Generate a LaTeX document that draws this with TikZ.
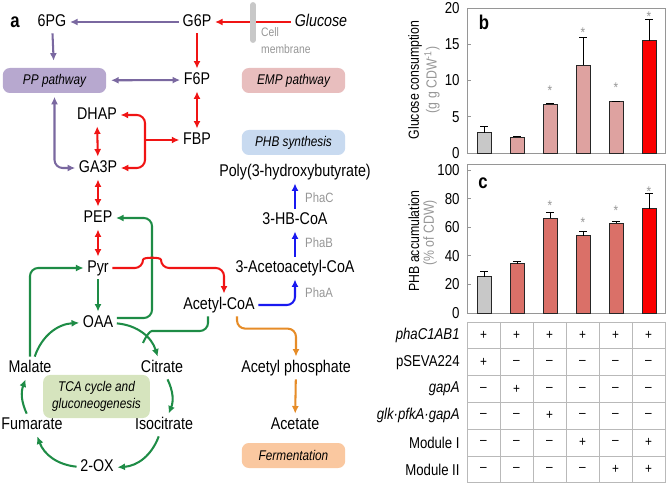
\documentclass[tikz,border=0pt]{standalone}
\usepackage{fontspec}
\setmainfont{Liberation Sans}[FakeStretch=0.84]
\usepackage{xcolor}
\usetikzlibrary{arrows.meta,positioning,calc}
\definecolor{cpur}{RGB}{122,104,160}
\definecolor{cred}{RGB}{240,20,20}
\definecolor{cgrn}{RGB}{30,140,70}
\definecolor{cblu}{RGB}{25,25,240}
\definecolor{corg}{RGB}{230,140,40}
\definecolor{fpur}{RGB}{183,168,207}
\definecolor{femp}{RGB}{232,190,190}
\definecolor{fphb}{RGB}{200,218,240}
\definecolor{ftca}{RGB}{214,228,190}
\definecolor{ffer}{RGB}{250,200,160}
\definecolor{txtgray}{RGB}{150,150,150}
\definecolor{memgray}{RGB}{200,200,200}
\definecolor{gridgray}{RGB}{185,185,185}
\definecolor{framegray}{RGB}{150,150,150}
\definecolor{bargray}{RGB}{200,200,200}
\definecolor{barpinkb}{RGB}{222,162,160}
\definecolor{barpinkc}{RGB}{218,112,104}
\definecolor{barred}{RGB}{250,0,0}
\newcommand\tabsign[1]{\if#1p+\else\textendash\fi}

\begin{document}
\begin{tikzpicture}[x=0.03cm,y=-0.03cm,>={Latex[length=6.5pt,width=6pt]},
  met/.style={font=\fontsize{14.5}{16}\selectfont,inner sep=3pt,text height=10.4pt,text depth=2.6pt},
  enz/.style={font=\fontsize{11.5}{13}\selectfont,text=txtgray,inner sep=0pt,anchor=west},
  pbox/.style={rounded corners=6pt,minimum width=3.1cm,minimum height=0.75cm,inner sep=2pt,
    font=\fontsize{12}{14}\selectfont\itshape,align=center},
  flux/.style={line width=1.75pt,rounded corners=7pt},
  purflux/.style={flux,draw=cpur},
  redflux/.style={flux,draw=cred},
  grnflux/.style={flux,draw=cgrn},
  bluflux/.style={flux,draw=cblu},
  orgflux/.style={flux,draw=corg},
  panel/.style={font=\fontsize{17}{19}\selectfont\bfseries,inner sep=0pt},
  ticklab/.style={font=\fontsize{13.5}{15}\selectfont,anchor=east,inner sep=1pt},
  axlab/.style={font=\fontsize{12.5}{14}\selectfont,rotate=90,inner sep=0pt},
  sigmark/.style={font=\fontsize{12}{14}\selectfont,text=txtgray,inner sep=0pt},
  barbox/.style={draw=black!85,line width=0.6pt},
  rowlab/.style={font=\fontsize{13.4}{15}\selectfont,anchor=east,inner sep=1pt},
  cell/.style={font=\fontsize{12}{14}\selectfont,inner sep=0pt}]
  \useasboundingbox (0,0) rectangle (666,485);

  % panel a: metabolites
  \node[panel] (la) at (15,22) {a};
  \node[met] (pg6) at (52,22) {6PG};
  \node[met] (g6p) at (197,22) {G6P};
  \node[met,font=\fontsize{14.5}{16}\selectfont\itshape] (glc) at (321,22) {Glucose};
  \node[met] (f6p) at (197,80) {F6P};
  \node[met] (fbp) at (197,140) {FBP};
  \node[met] (dhap) at (97,115) {DHAP};
  \node[met] (ga3p) at (98,168) {GA3P};
  \node[met] (pep) at (98,218) {PEP};
  \node[met] (pyr) at (98,268) {Pyr};
  \node[met] (oaa) at (98,323) {OAA};
  \node[met] (acoa) at (219,305) {Acetyl-CoA};
  \node[met] (aaco) at (295,268) {3-Acetoacetyl-CoA};
  \node[met] (hbcoa) at (295,220) {3-HB-CoA};
  \node[met] (phb) at (295,172) {Poly(3-hydroxybutyrate)};
  \node[met] (acph) at (296,368) {Acetyl phosphate};
  \node[met] (ace) at (295,425) {Acetate};
  \node[met] (mal) at (30,368) {Malate};
  \node[met] (cit) at (162,368) {Citrate};
  \node[met] (iso) at (164,425) {Isocitrate};
  \node[met] (oxo) at (97,467) {2-OX};
  \node[met] (fum) at (32,425) {Fumarate};
  \node[enz] (phaA) at (305,293) {PhaA};
  \node[enz] (phaB) at (305,243) {PhaB};
  \node[enz] (phaC) at (305,198) {PhaC};

  % pathway boxes
  \node[pbox,fill=fpur] (pp) at (54.5,80.5) {PP pathway};
  \node[pbox,fill=femp] (emp) at (293.5,80.5) {EMP pathway};
  \node[pbox,fill=fphb] (phbs) at (293.5,142.5) {PHB synthesis};
  \node[pbox,fill=ftca,minimum width=3.2cm,minimum height=1.29cm,inner sep=1pt] (tca) at (96.5,396.5)
    {TCA cycle and\\gluconeogenesis};
  \node[pbox,fill=ffer] (ferm) at (293.5,455.5) {Fermentation};

  % glycolysis and PP pathway
  \draw[redflux,->] (glc) -- (g6p);
  \draw[memgray,line width=5pt,line cap=round] (253,5) -- (253,40);
  \node[font=\fontsize{10.5}{14.5}\selectfont,text=txtgray,align=left,anchor=north west,inner sep=0pt]
    (memb) at (261,27) {Cell\\membrane};
  \draw[purflux,->] (g6p) -- (pg6);
  \draw[purflux,->,shorten >=6pt] (pg6) -- (pp);
  \draw[redflux,->] (g6p) -- (f6p);
  \draw[purflux,<->,shorten <=4pt] (pp) -- (f6p);
  \draw[redflux,<->] (f6p) -- (fbp);
  \draw[redflux,<->] (dhap) -- (ga3p);
  \coordinate (split) at (145,140);
  \draw[redflux,<->] (dhap.east) -| (split) |- (ga3p.east);
  \draw[redflux,->] (split) -- (fbp);
  \draw[purflux,<->,shorten >=3pt] (ga3p.west) -| (pp.south);
  \draw[redflux,<->] (ga3p) -- (pep);
  \draw[redflux,<->] (pep) -- (pyr);
  \draw[grnflux,->] (pyr) -- (oaa);
  \draw[grnflux,->] ($(oaa.east)+(0,-5)$) -| (152,250) |- (pep.east);
  \draw[redflux,->] (pyr.east) -- (143,268) .. controls (143,257) and (161,257) .. (161,268)
    -| ($(acoa.north)+(5,0)$);
  \draw[grnflux,->] (mal.north) |- (pyr.west);

  % PHB synthesis and fermentation
  \draw[bluflux,->] (acoa.east) -| (aaco.south);
  \draw[bluflux,->] (aaco) -- (hbcoa);
  \draw[bluflux,->] (hbcoa) -- (phb);
  \draw[orgflux,->] ($(acoa.south)+(18,0)$) |- ($(acph.north)+(0,-28)$) -- (acph.north);
  \draw[orgflux,->] (acph) -- (ace);

  % TCA cycle
  \draw[grnflux,->] (oaa) to[bend left=34] (cit);
  \draw[grnflux,->] (cit) to[bend left=24] (iso);
  \draw[grnflux,->] (iso) to[bend left=33] (oxo);
  \draw[grnflux,->] (oxo) to[bend left=32] (fum);
  \draw[grnflux,->] (fum) to[bend left=23] (mal);
  \draw[grnflux,->] (mal) to[bend left=34] (oaa);
  \draw[grnflux] ($(acoa.south)+(-11,0)$) |- (160,331) .. controls (150,331) and (146,336) .. (143,343);

  % panel b
  \draw[framegray,line width=0.7pt] (467,8) rectangle (665,153);
  \node[panel] (lb) at (484,22) {b};
  \foreach \v in {0,5,...,20} {
    \node[ticklab] at (461,{153-7.25*\v}) {\v};
    \draw[framegray,line width=0.7pt] (467,{153-7.25*\v}) -- (471,{153-7.25*\v});
  }
  \node[axlab] (ylb) at (415,80) {Glucose consumption};
  \node[axlab,text=txtgray] (yub) at (432,80) {(g g CDW\textsuperscript{-1})};
  \foreach \i/\v/\e/\c in {0/2.8/3.6/bargray,1/2.2/2.3/barpinkb,2/6.7/6.9/barpinkb,
      3/12.1/15.9/barpinkb,4/7.1/7.1/barpinkb,5/15.5/18.4/barred} {
    \draw[barbox,fill=\c] ({477+33*\i},153) rectangle ({491+33*\i},{153-7.25*\v});
    \draw[line width=0.8pt] ({484+33*\i},{153-7.25*\v}) -- ({484+33*\i},{153-7.25*\e})
      ++(-4,0) -- ++(8,0);
  }
  \foreach \i/\s in {2/9.0,3/17.0,4/9.4,5/19.2}
    \node[sigmark] at ({484+33*\i},{156-7.25*\s}) {*};

  % panel c
  \draw[framegray,line width=0.7pt] (467,164) rectangle (665,313);
  \node[panel] (lc) at (483,183) {c};
  \foreach \v in {0,20,...,100} {
    \node[ticklab] at (461,{313-1.43*\v}) {\v};
    \draw[framegray,line width=0.7pt] (467,{313-1.43*\v}) -- (471,{313-1.43*\v});
  }
  \node[axlab] (ylc) at (414,241) {PHB accumulation};
  \node[axlab,text=txtgray] (yuc) at (430,233) {(\% of CDW)};
  \foreach \i/\v/\e/\c in {0/25.5/29/bargray,1/34.5/36/barpinkc,2/66.5/70/barpinkc,
      3/54/57/barpinkc,4/63/64/barpinkc,5/73/83.5/barred} {
    \draw[barbox,fill=\c] ({477+33*\i},313) rectangle ({491+33*\i},{313-1.43*\v});
    \draw[line width=0.8pt] ({484+33*\i},{313-1.43*\v}) -- ({484+33*\i},{313-1.43*\e})
      ++(-4,0) -- ++(8,0);
  }
  \foreach \i/\s in {2/77.5,3/65,4/74,5/87}
    \node[sigmark] at ({484+33*\i},{316-1.43*\s}) {*};

  % construct table
  \foreach \k in {0,...,6} {
    \draw[gridgray,line width=0.7pt] ({467+33*\k},322) -- ({467+33*\k},483);
    \draw[gridgray,line width=0.7pt] (467,{322+26.8*\k}) -- (665,{322+26.8*\k});
  }
  \foreach \lab/\vals [count=\r from 0] in {{\itshape phaC1AB1}/{p,p,p,p,p,p},
      {pSEVA224}/{p,m,m,m,m,m},{\itshape gapA}/{m,p,m,m,m,m},
      {\itshape glk·pfkA·gapA}/{m,m,p,m,m,m},{Module I}/{m,m,m,p,m,p},
      {Module II}/{m,m,m,m,p,p}} {
    \node[rowlab] at (461,{335.4+26.8*\r}) {\lab};
    \foreach \s [count=\c from 0] in \vals
      \node[cell] at ({483.5+33*\c},{335.4+26.8*\r}) {\tabsign{\s}};
  }
\end{tikzpicture}
\end{document}
